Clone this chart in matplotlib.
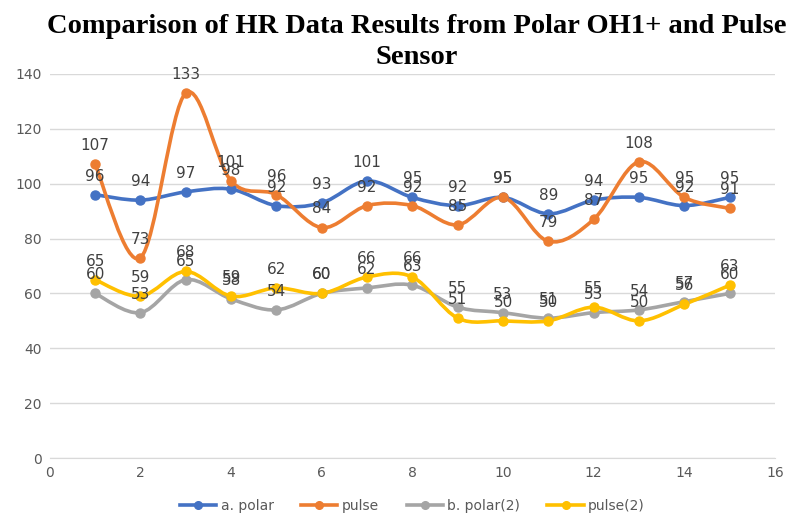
import numpy as np
import matplotlib
matplotlib.use("Agg")
import matplotlib.pyplot as plt
from matplotlib.path import Path
from matplotlib.patches import PathPatch
from matplotlib.lines import Line2D

# data
x = list(range(1, 16))
polar_a = [96, 94, 97, 98, 92, 93, 101, 95, 92, 95, 89, 94, 95, 92, 95]
pulse_a = [107, 73, 133, 101, 96, 84, 92, 92, 85, 95, 79, 87, 108, 95, 91]
polar_b = [60, 53, 65, 58, 54, 60, 62, 63, 55, 53, 51, 53, 54, 57, 60]
pulse_b = [65, 59, 68, 59, 62, 60, 66, 66, 51, 50, 50, 55, 50, 56, 63]

series = [
    ("a. polar", polar_a, "#4472C4"),
    ("pulse", pulse_a, "#ED7D31"),
    ("b. polar(2)", polar_b, "#A5A5A5"),
    ("pulse(2)", pulse_b, "#FFC000"),
]


def smooth_path(xs, ys, t=1 / 6):
    # Excel-like smoothed line: cubic bezier segments through the points
    pts = np.column_stack([np.asarray(xs, float), np.asarray(ys, float)])
    verts = [pts[0]]
    codes = [Path.MOVETO]
    n = len(pts)
    for i in range(n - 1):
        p0 = pts[i - 1] if i > 0 else pts[i]
        p1 = pts[i]
        p2 = pts[i + 1]
        p3 = pts[i + 2] if i + 2 < n else pts[i + 1]
        verts += [p1 + (p2 - p0) * t, p2 - (p3 - p1) * t, p2]
        codes += [Path.CURVE4] * 3
    return Path(verts, codes)


fig = plt.figure(figsize=(7.9, 5.17), dpi=100)
ax = fig.add_axes([0.063, 0.114, 0.918, 0.743])

for name, vals, col in series:
    ax.add_patch(PathPatch(smooth_path(x, vals), fill=False, edgecolor=col, lw=2.6, zorder=3))
    ax.plot(x, vals, "o", color=col, ms=6.5, zorder=4, linestyle="None")
    for xi, yi in zip(x, vals):
        ax.annotate(str(yi), (xi, yi), xytext=(0, 8), textcoords="offset points",
                    ha="center", va="bottom", fontsize=11, color="#404040", zorder=5)

ax.set_xlim(0, 16)
ax.set_ylim(0, 140)
ax.set_xticks(range(0, 17, 2))
ax.set_yticks(range(0, 141, 20))
ax.grid(axis="y", color="#D9D9D9", lw=1)
ax.set_axisbelow(True)
for s in ["top", "right", "left"]:
    ax.spines[s].set_visible(False)
ax.spines["bottom"].set_color("#D9D9D9")
ax.tick_params(length=0, labelsize=10, colors="#595959", pad=6)

handles = [Line2D([], [], color=c, lw=2.6, marker="o", ms=5.5) for _, _, c in series]
ax.legend(handles, [s[0] for s in series], loc="center", bbox_to_anchor=(0.5, -0.125),
          ncol=4, frameon=False, fontsize=10, labelcolor="#595959",
          handlelength=2.6, columnspacing=2.0, handletextpad=0.3)

fig.text(0.527, 0.972, "Comparison of HR Data Results from Polar OH1+ and Pulse\nSensor",
         ha="center", va="top", fontsize=20.5, fontweight="bold",
         family="Liberation Serif", linespacing=1.3)

fig.savefig("out.png", dpi=100)
